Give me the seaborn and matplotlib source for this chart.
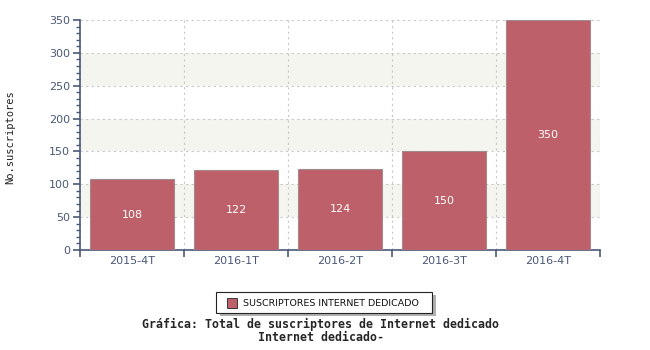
import matplotlib
matplotlib.use("Agg")
import matplotlib.pyplot as plt
import seaborn as sns
import pandas as pd
from matplotlib.ticker import MultipleLocator
from matplotlib.patches import Rectangle

categories = ["2015-4T", "2016-1T", "2016-2T", "2016-3T", "2016-4T"]
values = [108, 122, 124, 150, 350]
series_name = "SUSCRIPTORES INTERNET DEDICADO"

df = pd.DataFrame({"periodo": categories, "valor": values})

sns.set_style("white")
plt.rcParams['font.family'] = ['DejaVu Sans']

fig = plt.figure(figsize=(6.5, 3.5), dpi=100)
ax = fig.add_axes([80/650, 1-250/350, 520/650, 230/350])

axis_col = "#4a5878"
bar_col = "#be606a"

# alternating bands
for lo in (50, 150, 250):
    ax.axhspan(lo, lo + 50, color="#f5f5f0", zorder=0, lw=0)

sns.barplot(data=df, x="periodo", y="valor", color=bar_col, width=0.8,
            saturation=1, ax=ax, zorder=3, edgecolor="#a08a8e", linewidth=0.8)

for i, v in enumerate(values):
    ax.text(i, v / 2, str(v), ha="center", va="center", color="white",
            fontsize=8, zorder=5)

ax.set_xlim(-0.5, len(categories) - 0.5)
ax.set_ylim(0, 350)
ax.yaxis.set_major_locator(MultipleLocator(50))
ax.yaxis.set_minor_locator(MultipleLocator(10))

# grid
for y in range(50, 351, 50):
    ax.axhline(y, color="#c8c8c8", ls=(0, (2, 3)), lw=0.8, zorder=1)
for xb in [k + 0.5 for k in range(len(categories))]:
    ax.axvline(xb, color="#c8c8c8", ls=(0, (2, 3)), lw=0.8, zorder=1)

ax.set_xticks(range(len(categories)))
ax.set_xticklabels(categories)
ax.set_xticks([k - 0.5 for k in range(len(categories) + 1)], minor=True)
ax.tick_params(axis="x", which="major", bottom=True, length=0, colors=axis_col,
               labelsize=8, pad=4)
ax.tick_params(axis="x", which="minor", bottom=True, length=5, width=1.2,
               color=axis_col, direction="out")
ax.tick_params(axis="y", which="major", left=True, length=5, width=1.2, color=axis_col,
               labelcolor=axis_col, labelsize=8, direction="out", pad=2)
ax.tick_params(axis="y", which="minor", left=True, length=3, width=1, color=axis_col,
               direction="out")

for s in ("top", "right"):
    ax.spines[s].set_visible(False)
for s in ("left", "bottom"):
    ax.spines[s].set_color(axis_col)
    ax.spines[s].set_linewidth(1.2)

ax.set_xlabel("")
ax.set_ylabel("")
fig.text(10/650, 1-137/350, "No.suscriptores", rotation=90, ha="center", va="center",
         fontsize=7.5, family="DejaVu Sans Mono", color="#222222")

# legend box with shadow
fig.patches.append(Rectangle((220/650, 1-316/350), 216/650, 21/350, transform=fig.transFigure,
                             facecolor="#b0b0b0", edgecolor="none", zorder=1))
fig.patches.append(Rectangle((216/650, 1-313/350), 216/650, 21/350, transform=fig.transFigure,
                             facecolor="white", edgecolor="#222222", lw=0.8, zorder=2))
fig.patches.append(Rectangle((227/650, 1-308/350), 10/650, 10/350, transform=fig.transFigure,
                             facecolor=bar_col, edgecolor="#222222", lw=0.6, zorder=3))
fig.text(243/650, 1-303/350, series_name, ha="left", va="center", fontsize=6.8,
         family="DejaVu Sans", color="#111111", zorder=4)

fig.text(321/650, 1-324.5/350, "Gráfica: Total de suscriptores de Internet dedicado",
         ha="center", va="center", fontsize=8.4, family="DejaVu Sans Mono", weight="bold")
fig.text(321/650, 1-337.5/350, "Internet dedicado-",
         ha="center", va="center", fontsize=8.4, family="DejaVu Sans Mono", weight="bold")

fig.savefig("out.png", dpi=100)
